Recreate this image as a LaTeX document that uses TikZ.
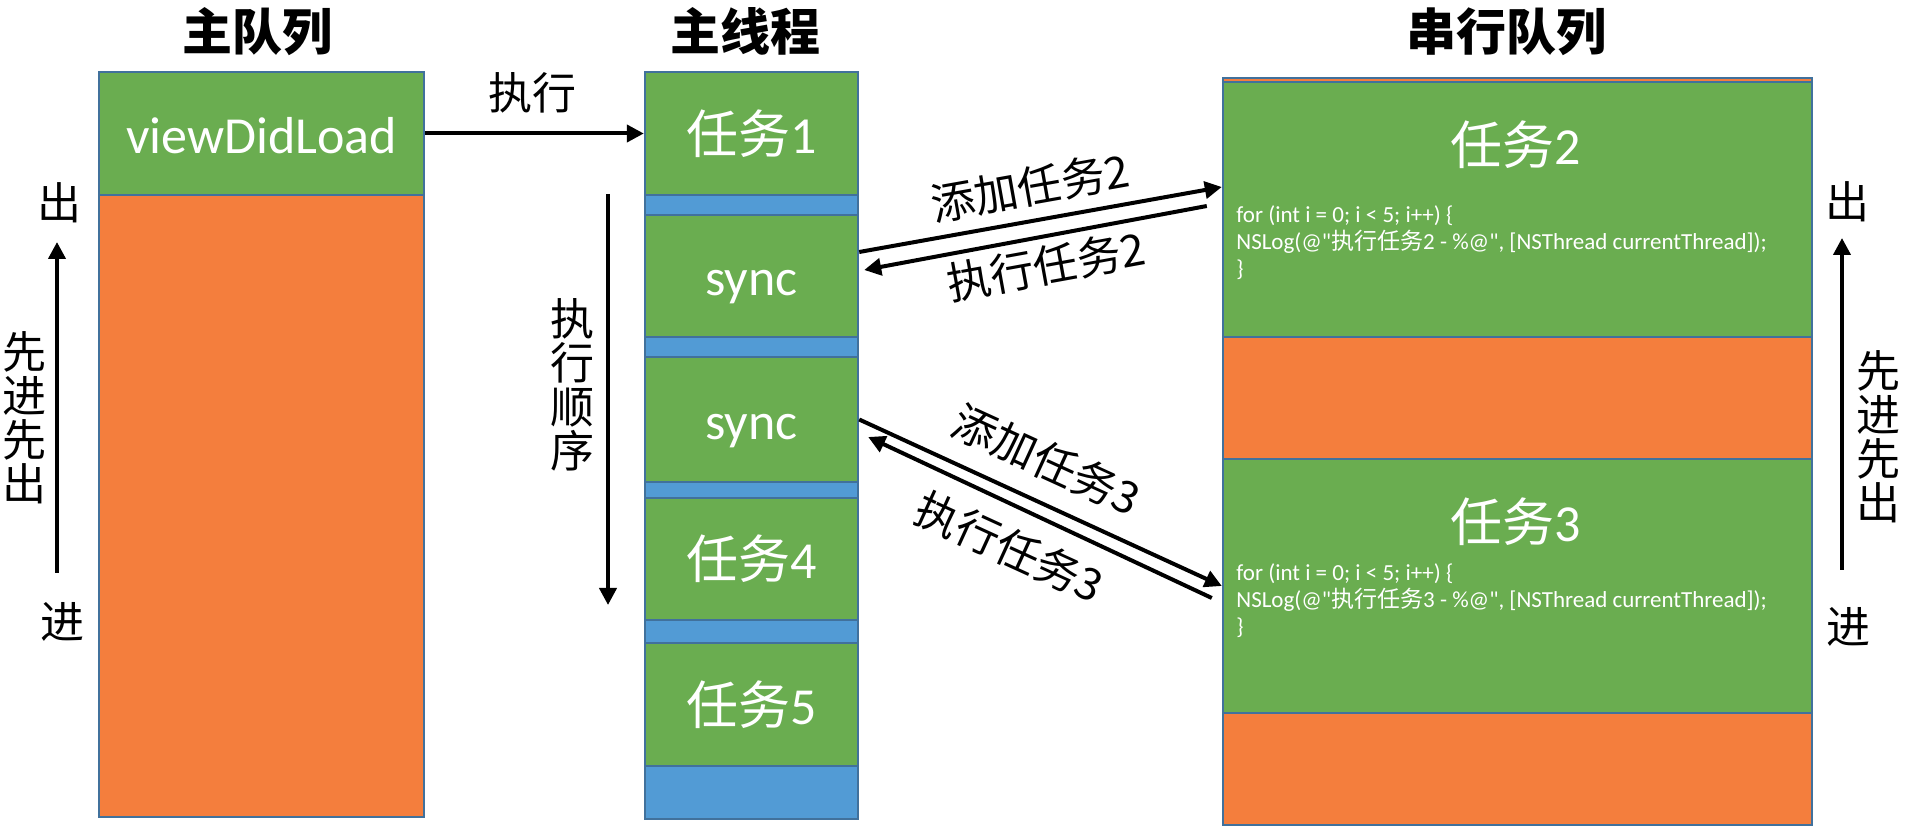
\documentclass[tikz,border=0pt]{standalone}
\usepackage{fontspec}
\setmainfont{Carlito}
\newfontfamily\cjk{Noto Sans CJK SC}
\usetikzlibrary{arrows.meta}
\definecolor{gr}{RGB}{106,173,80}
\definecolor{orng}{RGB}{244,126,61}
\definecolor{blu}{RGB}{82,155,213}
\definecolor{bdr}{RGB}{65,113,156}
\newcommand\zh[1]{{\cjk #1}}
\begin{document}
\begin{tikzpicture}[x=0.5pt,y=-0.5pt,
  box/.style={draw=bdr,line width=1.2pt,inner sep=0pt,minimum width=#1},
  gbox/.style={box=#1,fill=gr,text=white,font=\fontsize{26}{30}\selectfont,text height=23pt,text depth=3pt},
  obox/.style={box=#1,fill=orng},
  bbox/.style={box=#1,fill=blu},
  lbl/.style={font=\cjk\fontsize{22}{22}\selectfont,inner sep=0pt,align=center},
  ttl/.style={font=\cjk\bfseries\fontsize{25}{25}\selectfont,inner sep=0pt},
  code/.style={font=\fontsize{11.5}{13.5}\selectfont,text=white,align=left,inner sep=0pt},
  arr/.style={line width=2pt,-{Triangle[length=8.5pt,width=8.5pt]}}
]
\useasboundingbox (0,0) rectangle (1908,828);

% titles
\node[ttl] (tl) at (257,32) {主队列};
\node[ttl] (tm) at (745,31) {主线程};
\node[ttl] (tr) at (1506,32) {串行队列};

% main queue
\node[obox=162.5pt,minimum height=372.5pt] (lq) at (261.5,444.5) {};
\node[gbox=162.5pt,minimum height=61.5pt] (vdl) at (261.5,133.5) {viewDidLoad};

% main thread
\node[bbox=106.5pt,minimum height=373.5pt] (mt) at (751.5,445.5) {};
\node[gbox=106.5pt,minimum height=61.5pt] (t1) at (751.5,133.5) {\zh{任务}1};
\node[gbox=106.5pt,minimum height=61pt] (s1) at (751.5,276) {sync};
\node[gbox=106.5pt,minimum height=62.5pt] (s2) at (751.5,419.5) {sync};
\node[gbox=106.5pt,minimum height=61pt] (t4) at (751.5,559) {\zh{任务}4};
\node[gbox=106.5pt,minimum height=61.5pt] (t5) at (751.5,704.5) {\zh{任务}5};

% serial queue
\node[obox=294.5pt,minimum height=373.5pt] (sq) at (1517.5,451.5) {};
\node[box=294.5pt,fill=gr,minimum height=127.5pt] (q2) at (1517.5,209.5) {};
\node[box=294.5pt,fill=gr,minimum height=127pt] (q3) at (1517.5,586) {};
\node[text=white,font=\fontsize{26}{30}\selectfont,inner sep=0pt] (q2t) at (1516,145) {\zh{任务}2};
\node[text=white,font=\fontsize{26}{30}\selectfont,inner sep=0pt] (q3t) at (1516,522) {\zh{任务}3};
\node[code,anchor=west] (q2c) at (1236,243) {for (int i = 0; i < 5; i++) \{\\NSLog(@\textquotedbl\zh{执行任务}2 - \%@\textquotedbl, [NSThread currentThread]);\\\}};
\node[code,anchor=west] (q3c) at (1236,601) {for (int i = 0; i < 5; i++) \{\\NSLog(@\textquotedbl\zh{执行任务}3 - \%@\textquotedbl, [NSThread currentThread]);\\\}};

% execute arrow
\draw[arr] (vdl.east) -- (t1.west);
\node[lbl] (ex) at (532,93) {执行};

% sync arrows
\draw[arr] ([yshift=12pt]s1.east) -- ([yshift=11.25pt]q2.west);
\draw[arr] ([xshift=-7.5pt,yshift=1.75pt]q2.west) -- ([xshift=2.5pt,yshift=3pt]s1.east);
\node[lbl,rotate=10.1] (a2) at (1030,187) {添加任务2};
\node[lbl,rotate=10.3] (e2) at (1046,266) {执行任务2};

\draw[arr] (s2.east) -- (q3.west);
\draw[arr] ([xshift=-5pt,yshift=-6pt]q3.west) -- ([xshift=4.5pt,yshift=-8.75pt]s2.east);
\node[lbl,rotate=-24.6] (a3) at (1047,460) {添加任务3};
\node[lbl,rotate=-24.6] (e3) at (1010,547) {执行任务3};

% execution order
\coordinate (eo1) at (608,194);
\coordinate (eo2) at (608,605);
\draw[arr] (eo1) -- (eo2);
\node[lbl] (eol) at (572,385) {执\\行\\顺\\序};

% left FIFO
\node[lbl] (lout) at (60,203) {出};
\node[lbl] (lin) at (62,622) {进};
\coordinate (la1) at (57,573);
\coordinate (la2) at (57,242);
\draw[arr] (la1) -- (la2);
\node[lbl] (lfifo) at (25,418) {先\\进\\先\\出};

% right FIFO
\node[lbl] (rout) at (1847,202) {出};
\node[lbl] (rin) at (1848,627) {进};
\coordinate (ra1) at (1842,570);
\coordinate (ra2) at (1842,238);
\draw[arr] (ra1) -- (ra2);
\node[lbl] (rfifo) at (1878,437) {先\\进\\先\\出};
\end{tikzpicture}
\end{document}
